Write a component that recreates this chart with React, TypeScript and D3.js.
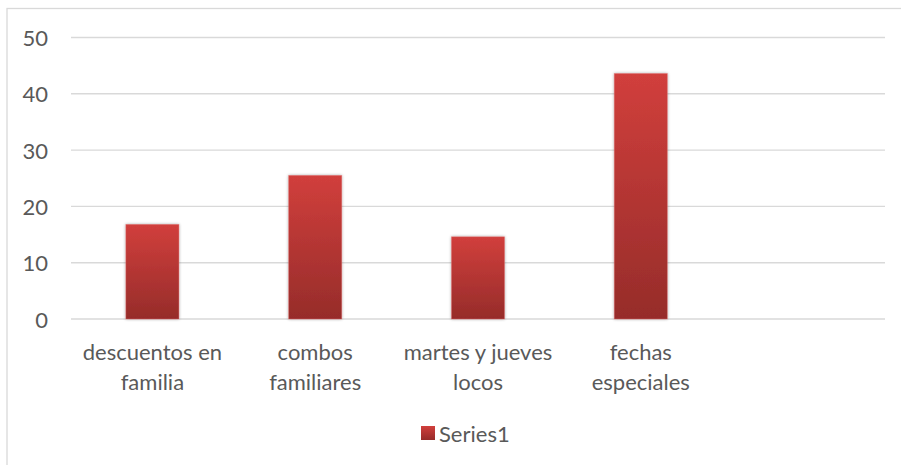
import React from "react";
import * as d3 from "d3";

const categories: string[][] = [
  ["descuentos en", "familia"],
  ["combos", "familiares"],
  ["martes y jueves", "locos"],
  ["fechas", "especiales"],
  [""],
];
const values: (number | null)[] = [16.8, 25.5, 14.6, 43.6, null];
const yTicks: number[] = [0, 10, 20, 30, 40, 50];
const seriesName = "Series1";

const W = 901;
const H = 465;
const plot = { left: 71, right: 885, top: 37.5, bottom: 319 };
const FONT = "Lato, 'Open Sans', sans-serif";
const TEXT = "#595959";
const FS = 22;

export default function App() {
  const x = d3
    .scaleBand<number>()
    .domain(categories.map((_, i) => i))
    .range([plot.left, plot.right])
    .padding(0);
  const y = d3.scaleLinear().domain([0, 50]).range([plot.bottom, plot.top]);
  const barW = x.step() * 0.326;

  return (
    <svg
      width={W}
      height={H}
      style={{ position: "absolute", left: 0, top: 0, background: "#fff" }}
    >
      <defs>
        <linearGradient id="barGrad" x1="0" y1="0" x2="0" y2="1">
          <stop offset="0%" stopColor="#d13f3c" />
          <stop offset="100%" stopColor="#962c2a" />
        </linearGradient>
        <filter id="shadow" x="-20%" y="-20%" width="140%" height="140%">
          <feGaussianBlur in="SourceAlpha" stdDeviation="1.5" />
          <feOffset dx="0" dy="0" result="b" />
          <feComponentTransfer>
            <feFuncA type="linear" slope="0.35" />
          </feComponentTransfer>
          <feMerge>
            <feMergeNode />
            <feMergeNode in="SourceGraphic" />
          </feMerge>
        </filter>
      </defs>
      <rect x={7} y={8.5} width={900} height={470} fill="#fff" stroke="#d9d9d9" strokeWidth={1.3} />
      {yTicks.map((t) => (
        <g key={t}>
          <line
            x1={plot.left}
            x2={plot.right}
            y1={y(t)}
            y2={y(t)}
            stroke="#d9d9d9"
            strokeWidth={1.4}
          />
          <text
            x={48}
            y={y(t)}
            textAnchor="end"
            dominantBaseline="central"
            fontFamily={FONT}
            fontSize={FS}
            fill={TEXT}
          >
            {t}
          </text>
        </g>
      ))}
      {values.map((v, i) =>
        v == null ? null : (
          <rect
            key={i}
            x={(x(i) as number) + x.step() / 2 - barW / 2}
            y={y(v)}
            width={barW}
            height={y(0) - y(v)}
            fill="url(#barGrad)"
            stroke="#e07070"
            strokeOpacity={0.5}
            strokeWidth={0.8}
            filter="url(#shadow)"
          />
        )
      )}
      {categories.map((lines, i) => (
        <text
          key={i}
          x={(x(i) as number) + x.step() / 2}
          y={351}
          textAnchor="middle"
          dominantBaseline="central"
          fontFamily={FONT}
          fontSize={FS}
          fill={TEXT}
        >
          {lines.map((l, j) => (
            <tspan key={j} x={(x(i) as number) + x.step() / 2} dy={j === 0 ? 0 : 29.5}>
              {l}
            </tspan>
          ))}
        </text>
      ))}
      <rect x={421} y={426} width={14} height={14} fill="url(#barGrad)" />
      <text
        x={439}
        y={433.5}
        dominantBaseline="central"
        fontFamily={FONT}
        fontSize={FS}
        fill={TEXT}
      >
        {seriesName}
      </text>
    </svg>
  );
}
